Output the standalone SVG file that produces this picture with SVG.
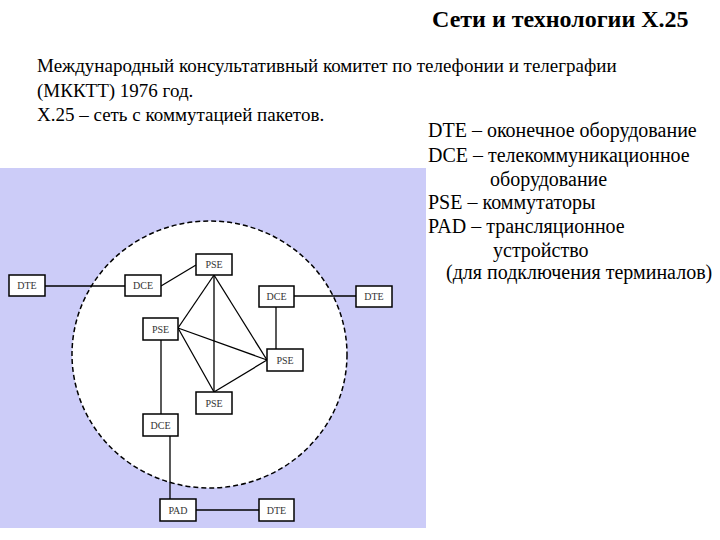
<svg xmlns="http://www.w3.org/2000/svg" width="720" height="540" viewBox="0 0 720 540">
<style>
.t{font-family:"Liberation Serif","Times New Roman",serif;font-size:19px;fill:#000}
.r{font-size:20px}
.b rect{fill:#fff;stroke:#000;stroke-width:1.5}
.b text{font-family:"Liberation Serif",serif;font-size:10px;text-anchor:middle;fill:#333}
#conn line{stroke:#000;stroke-width:1.3}
</style>
<rect width="720" height="540" fill="#fff"/>
<text x="432" y="27" style="font-family:'Liberation Serif',serif;font-size:24px;font-weight:bold">Сети и технологии X.25</text>
<text class="t" x="37" y="72">Международный консультативный комитет по телефонии и телеграфии</text>
<text class="t" x="37" y="97">(МККТТ) 1976 год.</text>
<text class="t" x="37" y="121">X.25 – сеть с коммутацией пакетов.</text>
<text class="t r" x="428" y="137">DTE – оконечное оборудование</text>
<text class="t r" x="428" y="162">DCE – телекоммуникационное</text>
<text class="t r" x="490" y="186">оборудование</text>
<text class="t r" x="428" y="209">PSE – коммутаторы</text>
<text class="t r" x="428" y="233">PAD – трансляционное</text>
<text class="t r" x="493" y="257">устройство</text>
<text class="t r" x="446" y="279">(для подключения терминалов)</text>
<rect x="0" y="168" width="426" height="360" fill="#ccccf8"/>
<ellipse cx="209.5" cy="354.5" rx="137.5" ry="133.5" fill="#fff" stroke="#000" stroke-width="1.5" stroke-dasharray="5,3"/>
<g id="conn">
<line x1="45" y1="286" x2="125" y2="286"/>
<line x1="161" y1="286" x2="196" y2="265"/>
<line x1="214" y1="275" x2="178" y2="328"/>
<line x1="214" y1="275" x2="214" y2="392"/>
<line x1="214" y1="275" x2="267" y2="360"/>
<line x1="178" y1="328" x2="267" y2="360"/>
<line x1="178" y1="328" x2="214" y2="392"/>
<line x1="214" y1="392" x2="267" y2="360"/>
<line x1="276" y1="307" x2="276" y2="349"/>
<line x1="294" y1="296" x2="356" y2="296"/>
<line x1="161" y1="340" x2="161" y2="414"/>
<line x1="170" y1="436" x2="170" y2="499"/>
<line x1="196" y1="510" x2="259" y2="510"/>
</g>
<g id="dte1" class="b"><rect x="9" y="275" width="36" height="21"/><text x="27" y="289">DTE</text></g>
<g id="dce1" class="b"><rect x="125" y="275" width="36" height="21"/><text x="143" y="289">DCE</text></g>
<g id="pse1" class="b"><rect x="196" y="254" width="36" height="21"/><text x="214" y="268">PSE</text></g>
<g id="dce2" class="b"><rect x="259" y="286" width="35" height="21"/><text x="276.5" y="300">DCE</text></g>
<g id="dte2" class="b"><rect x="356" y="286" width="36" height="21"/><text x="374" y="300">DTE</text></g>
<g id="pse2" class="b"><rect x="143" y="318" width="35" height="22"/><text x="160.5" y="333">PSE</text></g>
<g id="pse3" class="b"><rect x="267" y="349" width="36" height="22"/><text x="285" y="364">PSE</text></g>
<g id="pse4" class="b"><rect x="196" y="392" width="36" height="22"/><text x="214" y="407">PSE</text></g>
<g id="dce3" class="b"><rect x="143" y="414" width="35" height="22"/><text x="160.5" y="429">DCE</text></g>
<g id="pad" class="b"><rect x="160" y="499" width="36" height="22"/><text x="178" y="514">PAD</text></g>
<g id="dte3" class="b"><rect x="259" y="499" width="35" height="22"/><text x="276.5" y="514">DTE</text></g>
</svg>
